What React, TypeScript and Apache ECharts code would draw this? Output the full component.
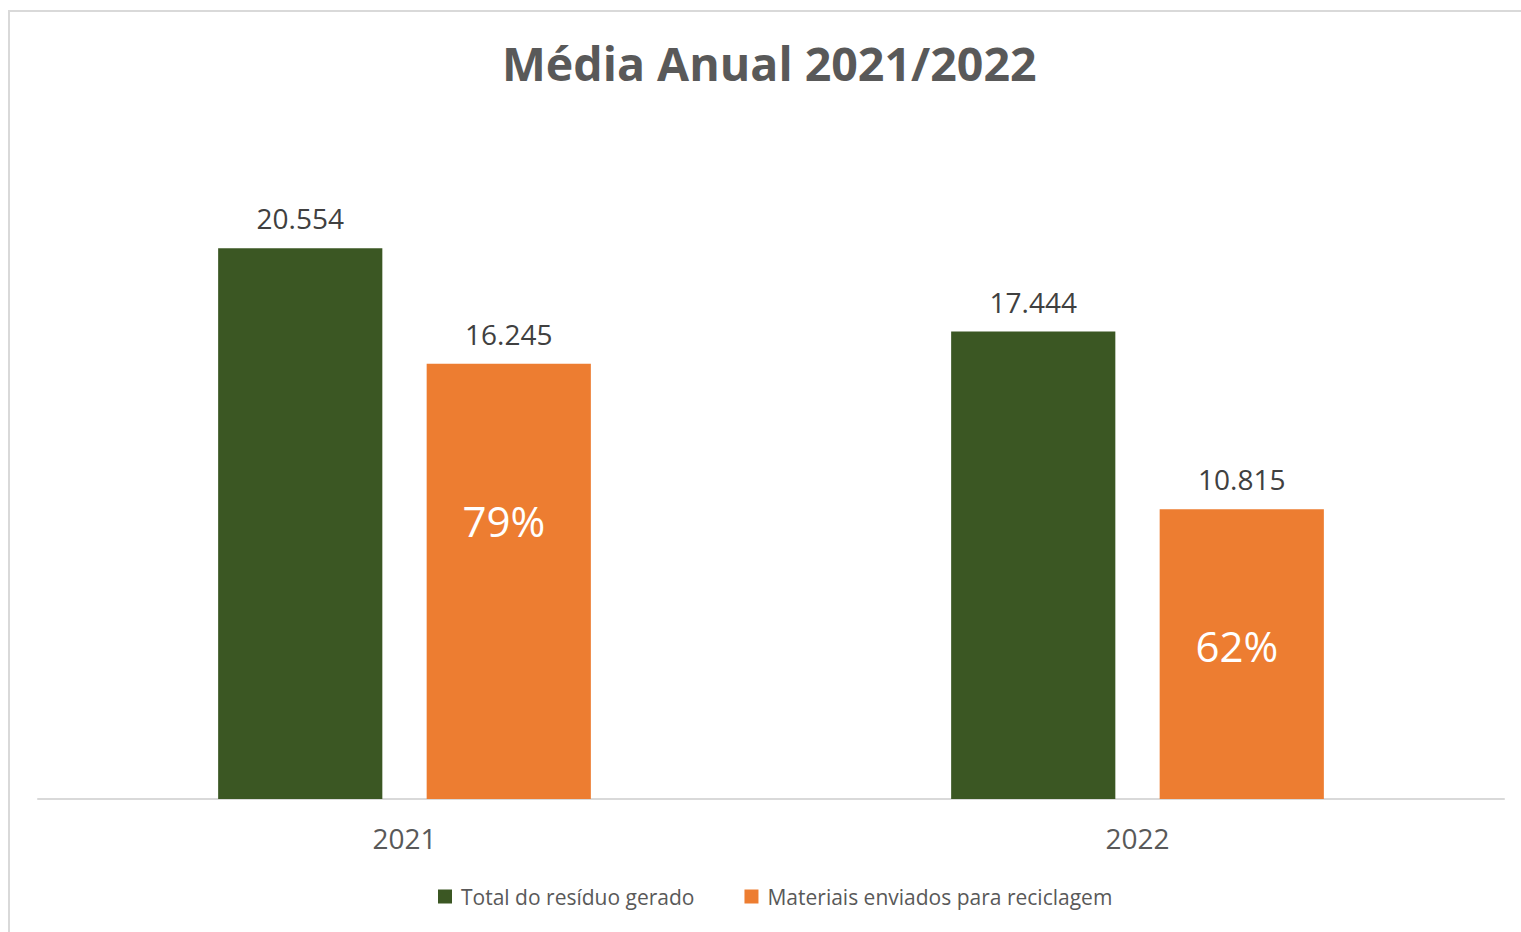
import React, { useEffect, useRef } from "react";
import * as echarts from "echarts";

const categories = ["2021", "2022"];
const totalGenerated = [20554, 17444];
const recycled = [16245, 10815];
const seriesNames = ["Total do resíduo gerado", "Materiais enviados para reciclagem"];
const chartTitle = "Média Anual 2021/2022";

const FONT = "'Open Sans', 'Noto Sans', sans-serif";
const pctLabelFrac = [0.36, 0.47];

const fmt = (v: number) => String(v).replace(/\B(?=(\d{3})+(?!\d))/g, ".");

export default function App() {
  const ref = useRef<HTMLDivElement>(null);
  useEffect(() => {
    document.body.style.margin = "0";
    const chart = echarts.init(ref.current!, null, { renderer: "svg" });
    const pctData = recycled.map((v, i) => [i, v, totalGenerated[i]]);
    chart.setOption({
      animation: false,
      backgroundColor: "#ffffff",
      title: {
        text: chartTitle,
        left: 497,
        top: 34,
        textStyle: { fontFamily: FONT, fontSize: 46.5, fontWeight: "bold", color: "#595959" },
      },
      graphic: [
        {
          type: "rect",
          shape: { x: 9, y: 11, width: 1540, height: 960 },
          style: { fill: "none", stroke: "#d9d9d9", lineWidth: 2 },
          silent: true,
        },
      ],
      legend: {
        data: seriesNames,
        bottom: 20,
        left: 433,
        itemWidth: 14,
        itemHeight: 14,
        itemGap: 50,
        icon: "rect",
        textStyle: { fontFamily: FONT, fontSize: 21, color: "#595959", padding: [0, 0, 0, 4] },
      },
      grid: { left: 38, right: 17, top: 129, bottom: 133 },
      xAxis: {
        type: "category",
        data: categories,
        axisLine: { lineStyle: { color: "#d9d9d9", width: 2 } },
        axisTick: { show: false },
        axisLabel: { fontFamily: FONT, fontSize: 28, color: "#595959", margin: 25 },
      },
      yAxis: {
        type: "value",
        min: 0,
        max: 25000,
        show: false,
        splitLine: { show: false },
      },
      series: [
        {
          name: seriesNames[0],
          type: "bar",
          data: totalGenerated,
          barWidth: "22.4%",
          barGap: "27%",
          itemStyle: { color: "#3b5723" },
          label: {
            show: true,
            position: "top",
            distance: 16,
            formatter: (p: any) => fmt(p.value),
            fontFamily: FONT,
            fontSize: 28,
            color: "#404040",
          },
        },
        {
          name: seriesNames[1],
          type: "bar",
          data: recycled,
          barWidth: "22.4%",
          barGap: "27%",
          itemStyle: { color: "#ed7d31" },
          label: {
            show: true,
            position: "top",
            distance: 16,
            formatter: (p: any) => fmt(p.value),
            fontFamily: FONT,
            fontSize: 28,
            color: "#404040",
          },
        },
        {
          type: "custom",
          name: "pct",
          data: pctData,
          encode: { x: 0, y: 1 },
          clip: false,
          z: 10,
          silent: true,
          renderItem: (params: any, api: any) => {
            const i = api.value(0);
            const v = api.value(1);
            const total = api.value(2);
            const base = api.coord([i, 0]);
            const top = api.coord([i, v]);
            const band = api.size([1, 0])[0];
            const barW = band * 0.224;
            const gap = barW * 0.27;
            const cx = base[0] + (barW + gap) / 2 - 5;
            const cy = top[1] + (base[1] - top[1]) * pctLabelFrac[params.dataIndex];
            return {
              type: "text",
              x: cx,
              y: cy,
              style: {
                text: Math.round((v / total) * 100) + "%",
                fill: "#ffffff",
                fontFamily: FONT,
                fontSize: 42,
                align: "center",
                verticalAlign: "middle",
              },
            };
          },
        },
      ],
    });
    return () => chart.dispose();
  }, []);
  return <div ref={ref} style={{ width: 1521, height: 932 }} />;
}
